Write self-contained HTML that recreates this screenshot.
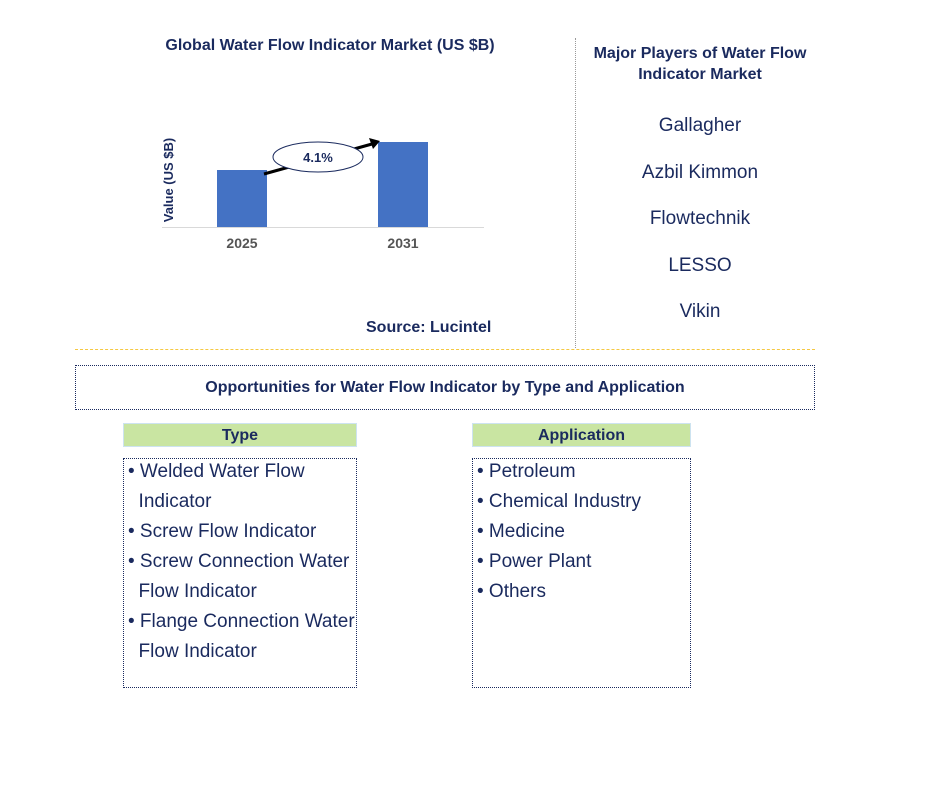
<!DOCTYPE html>
<html><head><meta charset="utf-8"><style>
body{margin:0;width:943px;height:808px;background:#fff;font-family:"Liberation Sans",Arial,sans-serif;position:relative;overflow:hidden}
.a{position:absolute}
.navy{color:#1a2a5e}
.li{font-size:19px;color:#1a2a5e;line-height:30px}
</style></head><body>
<div class="a navy" style="left:110px;top:37px;width:440px;text-align:center;font-weight:bold;font-size:16px">Global Water Flow Indicator Market (US $B)</div>
<svg class="a" style="left:0;top:0" width="560" height="340">
<g id="g"></g>
</svg>
<div class="a navy" style="left:366px;top:319px;font-weight:bold;font-size:16px">Source: Lucintel</div>
<div class="a" style="left:575px;top:38px;height:310px;border-left:1px dotted #999"></div>
<div class="a navy" style="left:575px;top:43px;width:250px;text-align:center;font-weight:bold;font-size:16px;line-height:21px">Major Players of Water Flow Indicator Market</div>
<div class="a" style="left:580px;top:115px;width:240px;text-align:center;font-size:19px;color:#1a2a5e">
<div style="height:46.5px">Gallagher</div>
<div style="height:46.5px">Azbil Kimmon</div>
<div style="height:46.5px">Flowtechnik</div>
<div style="height:46.5px">LESSO</div>
<div style="height:46.5px">Vikin</div>
</div>
<div class="a" style="left:75px;top:349px;width:740px;border-top:1px dashed #f5c842"></div>
<div class="a navy" style="left:75px;top:365px;width:738px;height:43px;border:1px dotted #1a2a5e;text-align:center;line-height:43px;font-weight:bold;font-size:16px">Opportunities for Water Flow Indicator by Type and Application</div>
<div class="a navy" style="left:123px;top:423px;width:232px;height:22px;background:#c9e5a2;border:1px solid #cde3f0;text-align:center;line-height:24px;font-weight:bold;font-size:16px">Type</div>
<div class="a" style="left:123px;top:458px;width:232px;height:228px;border:1px dotted #1a2a5e">
<div class="li" style="padding:0 0 0 4px;margin-top:-2px">• Welded Water Flow<br>&nbsp;&nbsp;Indicator<br>• Screw Flow Indicator<br>• Screw Connection Water<br>&nbsp;&nbsp;Flow Indicator<br>• Flange Connection Water<br>&nbsp;&nbsp;Flow Indicator</div></div>
<div class="a navy" style="left:472px;top:423px;width:217px;height:22px;background:#c9e5a2;border:1px solid #cde3f0;text-align:center;line-height:24px;font-weight:bold;font-size:16px">Application</div>
<div class="a" style="left:472px;top:458px;width:217px;height:228px;border:1px dotted #1a2a5e">
<div class="li" style="padding:0 0 0 4px;margin-top:-2px">• Petroleum<br>• Chemical Industry<br>• Medicine<br>• Power Plant<br>• Others</div></div>
<script>
const categories=["2025","2031"];
const values=[5.7,8.5];
const cagrLabel="4.1%";
const base=227, pxPer=10, centers=[242,403], bw=50;
const y=v=>base-v*pxPer;
const NS="http://www.w3.org/2000/svg";
const g=document.getElementById('g');
function mk(t,a){const e=document.createElementNS(NS,t);for(const k in a)e.setAttribute(k,a[k]);g.appendChild(e);return e;}
const ax=mk('line',{x1:162,x2:484,y1:base+0.5,y2:base+0.5,stroke:'#d9d9d9'});


categories.forEach((c,i)=>{
 const r=mk('rect',{x:centers[i]-bw/2,y:y(values[i]),width:bw,height:values[i]*pxPer,fill:'#4472c4'});
 
 
 const t=mk('text',{x:centers[i],y:248,'text-anchor':'middle','font-size':14,'font-weight':'bold',fill:'#555','font-family':'Liberation Sans'});
 t.textContent=c;
 
 
});
const yt=mk('text',{transform:'translate(173,180) rotate(-90)','text-anchor':'middle','font-size':13,'font-weight':'bold',fill:'#1a2a5e','font-family':'Liberation Sans'});
yt.textContent='Value (US $B)';


const x1=centers[0]+bw/2-3,y1=y(values[0])+4,x2=centers[1]-bw/2+2,y2=y(values[1])-1;
const ar=mk('line',{x1:x1,y1:y1,x2:x2-8,y2:y2+3,stroke:'#000','stroke-width':3});


mk('polygon',{points:`${x2},${y2} ${x2-11},${y2-3} ${x2-7},${y2+8}`,fill:'#000'});
const el=mk('ellipse',{cx:318,cy:157,rx:45,ry:15,fill:'#fff',stroke:'#1a2a5e'});


const ct=mk('text',{x:318,y:162,'text-anchor':'middle','font-size':13,'font-weight':'bold',fill:'#1a2a5e','font-family':'Liberation Sans'});
ct.textContent=cagrLabel;


</script>
</body></html>
